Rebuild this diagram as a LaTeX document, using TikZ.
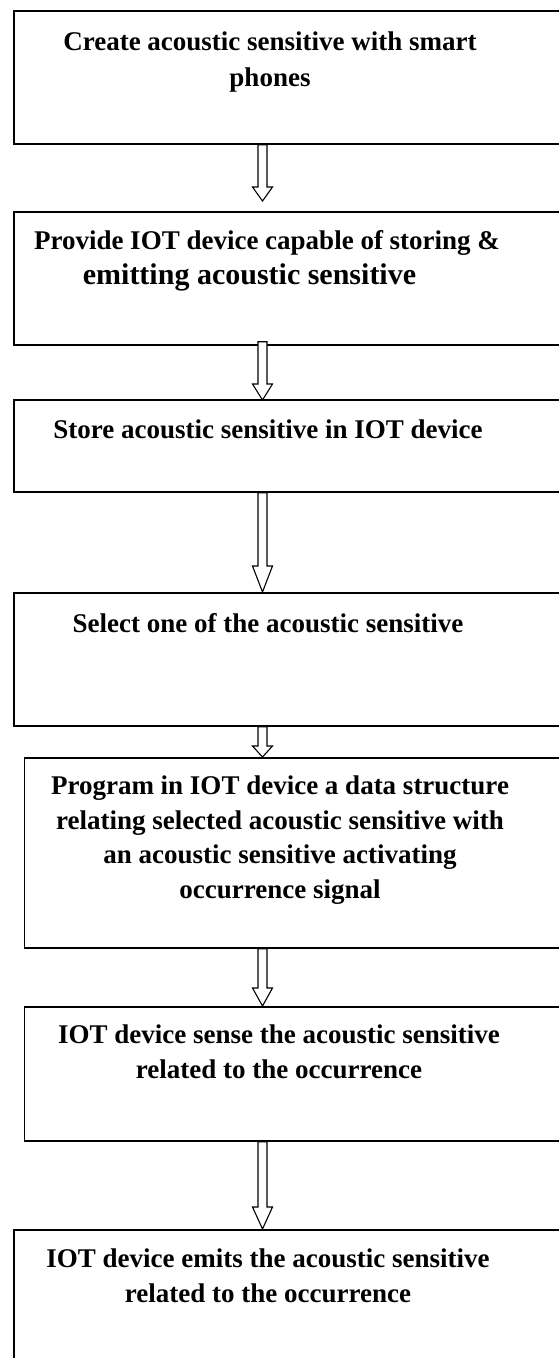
\documentclass[tikz,border=0pt]{standalone}
\usepackage{fontspec}
\setmainfont{Liberation Serif}
\usetikzlibrary{calc}

\tikzset{
  stepbox/.style={draw=black, line width=1.7pt, fill=none, inner sep=0pt,
    anchor=north west, minimum width=600pt},
  steptext/.style={anchor=north, inner sep=0pt, align=center,
    font=\fontsize{27}{34.5}\selectfont\bfseries},
  arrowline/.style={draw=black, line width=1.1pt, fill=white, line join=miter}
}

% hollow block arrow from the bottom of one box to the top of the next
% #1 source box, #2 target box, #3 shift of shaft top, #4 shift of tip, #5 head length
\newcommand\blockarrow[5]{%
  \path (#1.south -| ax) ++(0,#3) coordinate (s)
        (#2.north -| ax) ++(0,#4) coordinate (t);
  \draw[arrowline]
    ($(s)+(-4.5,0)$) -- ($(t)+(-4.5,-#5)$) -- ($(t)+(-10,-#5)$) -- (t)
    -- ($(t)+(10,-#5)$) -- ($(t)+(4.5,-#5)$) -- ($(s)+(4.5,0)$) -- cycle;
}

\begin{document}
\begin{tikzpicture}[x=1pt, y=-1pt]
  \useasboundingbox (0,0) rectangle (559,1358);
  \clip (0,0) rectangle (559,1358);
  \fill[white] (0,0) rectangle (559,1358);

  \coordinate (ax) at (262.5,0);

  % boxes
  \node[stepbox, minimum height=133pt] (b1) at (13,10) {};
  \node[stepbox, minimum height=133pt] (b2) at (13,211) {};
  \node[stepbox, minimum height=92pt]  (b3) at (13,399) {};
  \node[stepbox, minimum height=133pt] (b4) at (13,592) {};
  \node[stepbox, minimum height=190pt] (b5) at (23.5,757) {};
  \node[stepbox, minimum height=134pt] (b6) at (23.5,1006) {};
  \node[stepbox, minimum height=200pt] (b7) at (13,1229) {};

  % texts
  \node[steptext] (t1) at (270,31.7)
    {Create acoustic sensitive with smart\\[1.5pt]phones};
  \node[steptext] (t2) at (267,230.7)
    {Provide IOT device capable of storing \&\\{\fontsize{30}{34.5}\selectfont emitting acoustic sensitive}\rule{35pt}{0pt}};
  \node[steptext] (t3) at (268,419.7)
    {Store acoustic sensitive in IOT device};
  \node[steptext] (t4) at (268,613.7)
    {Select one of the acoustic sensitive};
  \node[steptext] (t5) at (280,775.7)
    {Program in IOT device a data structure\\relating selected acoustic sensitive with\\an acoustic sensitive activating\\occurrence signal};
  \node[steptext] (t6) at (279,1024.7)
    {IOT device sense the acoustic sensitive\\related to the occurrence};
  \node[steptext] (t7) at (268,1248.7)
    {IOT device emits the acoustic sensitive\\related to the occurrence};

  % connectors
  \blockarrow{b1}{b2}{0}{-10}{14}
  \blockarrow{b2}{b3}{-4}{1}{16}
  \blockarrow{b3}{b4}{0}{0}{26}
  \blockarrow{b4}{b5}{0}{0}{11}
  \blockarrow{b5}{b6}{0}{0}{18}
  \blockarrow{b6}{b7}{0}{0}{22}
\end{tikzpicture}
\end{document}
